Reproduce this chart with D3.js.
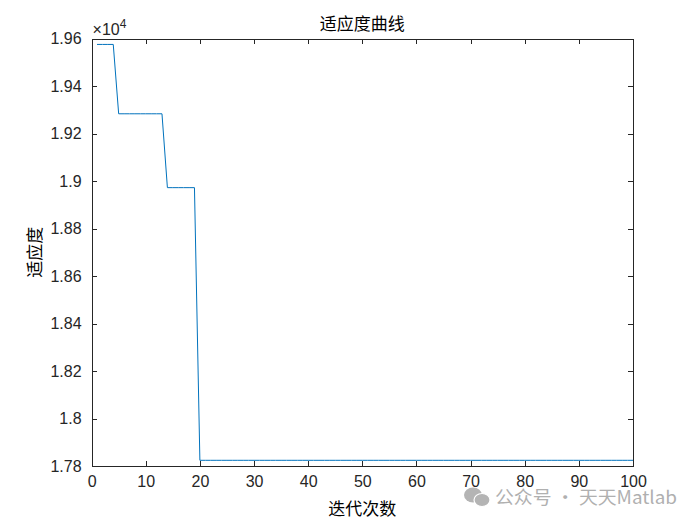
<!DOCTYPE html>
<html><head><meta charset="utf-8">
<script src="https://cdn.jsdelivr.net/npm/d3@7"></script>
<style>body{margin:0;background:#fff}svg{display:block}</style>
</head><body>
<script>
// ---- data ----
const iterations = d3.range(1, 101);
// fitness steps (values in units of 1e4)
const stepStarts = [1, 5, 14, 20];
const stepValues = [1.9575, 1.9283, 1.8972, 1.7824];
const fitness = iterations.map(i => {
  let v = stepValues[0];
  stepStarts.forEach((s, k) => { if (i >= s) v = stepValues[k]; });
  return v;
});
const xTicks = [0,10,20,30,40,50,60,70,80,90,100];
const yTicks = [1.78,1.8,1.82,1.84,1.86,1.88,1.9,1.92,1.94,1.96];
const yTickLabels = ["1.78","1.8","1.82","1.84","1.86","1.88","1.9","1.92","1.94","1.96"];
const titleText = "适应度曲线";
const xLabelText = "迭代次数";
const yLabelText = "适应度";
const watermarkText = "公众号 · 天天Matlab";

// ---- layout ----
const W = 700, H = 525;
const L = 91.6, R = 633, T = 38.5, B = 466;
const axCol = "#262626";
const cjk = "'Noto Sans CJK SC', sans-serif";
const num = "'Liberation Sans', Arial, sans-serif";

const svg = d3.select("body").append("svg").attr("width", W).attr("height", H);
const x = d3.scaleLinear().domain([0, 100]).range([L, R]);
const y = d3.scaleLinear().domain([1.78, 1.96]).range([B, T]);

// data line
svg.append("path")
  .datum(iterations.map((d, i) => [d, fitness[i]]))
  .attr("fill", "none").attr("stroke", "#0072BD").attr("stroke-width", 1)
  .attr("d", d3.line().x(d => x(d[0])).y(d => y(d[1])));

// axes (ticks inward)
const fmtY = (d) => yTickLabels[yTicks.indexOf(d)];
const gBottom = svg.append("g").attr("transform", `translate(0,${B})`)
  .call(d3.axisBottom(x).tickValues(xTicks).tickSizeInner(-5).tickSizeOuter(0).tickPadding(10));
const gTop = svg.append("g").attr("transform", `translate(0,${T})`)
  .call(d3.axisTop(x).tickValues(xTicks).tickSizeInner(-5).tickSizeOuter(0).tickFormat(""));
const gLeft = svg.append("g").attr("transform", `translate(${L},0)`)
  .call(d3.axisLeft(y).tickValues(yTicks).tickSizeInner(-5).tickSizeOuter(0).tickPadding(10).tickFormat(fmtY));
const gRight = svg.append("g").attr("transform", `translate(${R},0)`)
  .call(d3.axisRight(y).tickValues(yTicks).tickSizeInner(-5).tickSizeOuter(0).tickFormat(""));
[gBottom, gTop, gLeft, gRight].forEach(g => {
  g.selectAll("path,line").attr("stroke", axCol).attr("stroke-width", 1).attr("shape-rendering", "crispEdges");
  g.selectAll("text").attr("fill", axCol).style("font-family", num).style("font-size", "16px");
});
gBottom.selectAll("text").attr("dy", "0.71em");

// exponent label
const ex = svg.append("text").attr("x", L + 1).attr("y", T - 4)
  .attr("fill", axCol).style("font-family", num).style("font-size", "16px");
ex.append("tspan").text("×10");
ex.append("tspan").attr("dy", -7).style("font-size", "12px").text("4");

// title and axis labels
svg.append("text").attr("x", (L + R) / 2).attr("y", 30).attr("text-anchor", "middle")
  .attr("fill", "#000").style("font-family", cjk).style("font-size", "17px").text(titleText);
svg.append("text").attr("x", (L + R) / 2).attr("y", 515).attr("text-anchor", "middle")
  .attr("fill", "#000").style("font-family", cjk).style("font-size", "17px").text(xLabelText);
svg.append("text").attr("transform", `translate(41,${(T + B) / 2}) rotate(-90)`).attr("text-anchor", "middle")
  .attr("fill", "#000").style("font-family", cjk).style("font-size", "17px").text(yLabelText);

// watermark
const wm = svg.append("g").attr("fill", "#b4b4b4");
wm.append("ellipse").attr("cx", 473).attr("cy", 495).attr("rx", 9).attr("ry", 7.5);
wm.append("ellipse").attr("cx", 482).attr("cy", 500).attr("rx", 8).attr("ry", 6.5).attr("stroke", "#fff").attr("stroke-width", 1.2);
svg.append("text").attr("x", 495).attr("y", 504).attr("fill", "#b0b0b0")
  .attr("textLength", 182).attr("lengthAdjust", "spacingAndGlyphs")
  .style("font-family", cjk).style("font-size", "18px").text(watermarkText);
</script>
</body></html>
